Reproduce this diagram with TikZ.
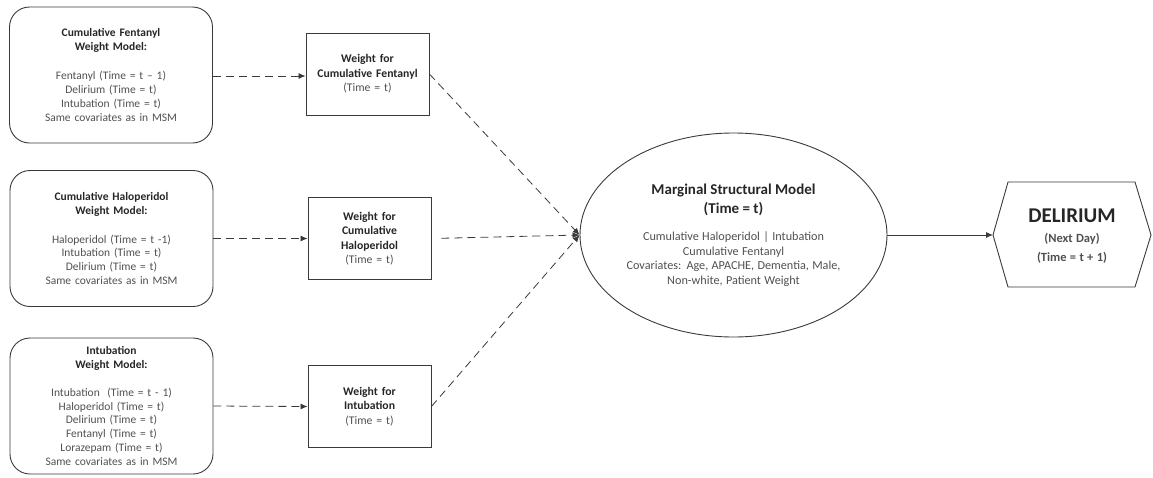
\documentclass[tikz,border=0pt]{standalone}
\usepackage{fontspec}
\setmainfont{Carlito}
\usetikzlibrary{shapes.geometric,arrows.meta}
\definecolor{linec}{HTML}{3A3A3A}
\definecolor{titlec}{HTML}{262626}
\definecolor{bodyc}{HTML}{505050}
\tikzset{
  model/.style={draw=linec, line width=0.9pt, rounded corners=20pt, minimum width=203pt, minimum height=136pt,
    align=center, text width=195pt, inner sep=0pt, text=bodyc, font=\fontsize{11.5}{13.9}\selectfont},
  wbox/.style={draw=linec, line width=0.9pt, minimum width=123pt, minimum height=82pt,
    align=center, text width=120pt, inner sep=0pt, text=bodyc, font=\fontsize{11.7}{14.5}\selectfont},
  dasharr/.style={draw=linec, line width=0.8pt, dash pattern=on 8pt off 5pt, -{Latex[length=7pt,width=6pt]}},
  solarr/.style={draw=linec, line width=0.9pt, -{Latex[length=7pt,width=6pt]}},
}
\newcommand\ttl[1]{{\bfseries\color{titlec}#1}}
\begin{document}
\begin{tikzpicture}[x=1pt,y=-1pt]
\useasboundingbox (0,0) rectangle (1153,477);

% left model boxes
\node[model] (m1) at (111,75) {{\bfseries\color{titlec}Cumulative Fentanyl\\Weight Model:\par}\vspace{15pt}Fentanyl (Time = t – 1)\\Delirium (Time = t)\\Intubation (Time = t)\\Same covariates as in MSM};
\node[model] (m2) at (111.5,238.5) {{\bfseries\color{titlec}Cumulative Haloperidol\\Weight Model:\par}\vspace{15pt}Haloperidol (Time = t -1)\\Intubation (Time = t)\\Delirium (Time = t)\\Same covariates as in MSM};
\node[model] (m3) at (111.5,406) {{\bfseries\color{titlec}Intubation\\Weight Model:\par}\vspace{14pt}Intubation~ (Time = t - 1)\\Haloperidol (Time = t)\\Delirium (Time = t)\\Fentanyl (Time = t)\\Lorazepam (Time = t)\\Same covariates as in MSM};

% weight boxes
\node[wbox] (w1) at (367.5,74) {\ttl{Weight for}\\\ttl{Cumulative Fentanyl}\\(Time = t)};
\node[wbox] (w2) at (369.5,238.5) {\ttl{Weight for}\\\ttl{Cumulative}\\\ttl{Haloperidol}\\(Time = t)};
\node[wbox] (w3) at (369.5,406.5) {\ttl{Weight for}\\\ttl{Intubation}\\(Time = t)};

% ellipse
\node[ellipse, draw=linec, line width=0.9pt, minimum width=307pt, minimum height=204pt, inner sep=0pt] (msm) at (733.5,235) {};
\node[align=center, text width=250pt, inner sep=0pt, text=bodyc] (msmtext) at (733.5,235)
  {{\fontsize{15}{19}\selectfont\bfseries\color{titlec}Marginal Structural Model\\(Time = t)\par}\vspace{13pt}%
   {\fontsize{12.2}{14.4}\selectfont Cumulative Haloperidol | Intubation\\Cumulative Fentanyl\\Covariates: Age, APACHE, Dementia, Male,\\Non-white, Patient Weight\par}};

% hexagon
\coordinate (hw) at (993,235);
\coordinate (htl) at (1008,182);
\coordinate (htr) at (1135,182);
\coordinate (he) at (1151,235);
\coordinate (hbr) at (1135,287);
\coordinate (hbl) at (1008,287);
\draw[draw=linec, line width=0.9pt] (hw) -- (htl) -- (htr) -- (he) -- (hbr) -- (hbl) -- cycle;
\node[align=center, text width=140pt, inner sep=0pt, text=titlec] (del) at (1072,236)
  {{\fontsize{21}{24}\selectfont\bfseries DELIRIUM\par}\vspace{1pt}%
   {\fontsize{12.5}{19}\selectfont\bfseries\color{bodyc}(Next Day)\\(Time = t + 1)\par}};

% connectors
\draw[dasharr] (m1.east |- 0,76) -- (w1.west |- 0,76);
\draw[dasharr] (m2.east) -- (w2.west);
\draw[dasharr] (m3.east) -- (w3.west);
\draw[dasharr] (w1.east) -- (msm.west);
\draw[dasharr, shorten <=10pt] (w2.east) -- (msm.west);
\draw[dasharr] (w3.east) -- (msm.west);
\draw[solarr] (msm.east) -- (hw);
\end{tikzpicture}
\end{document}
